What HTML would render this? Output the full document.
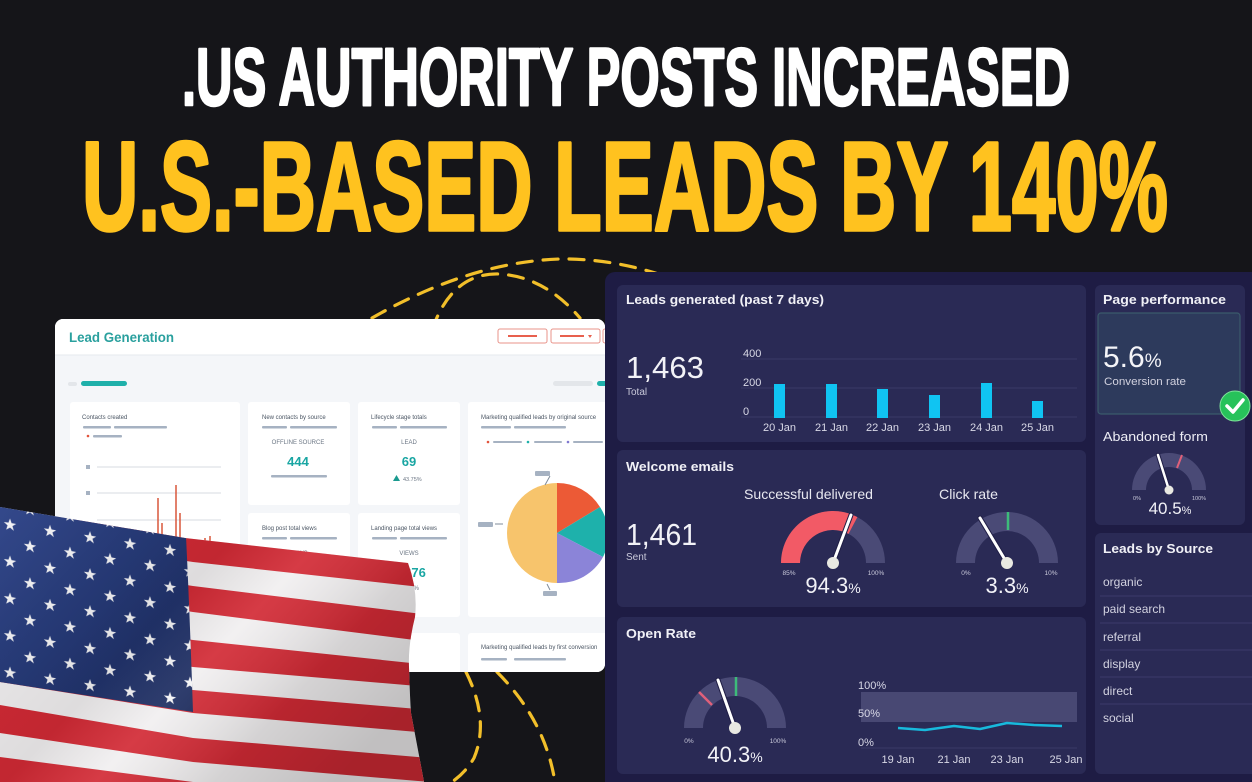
<!DOCTYPE html>
<html><head><meta charset="utf-8">
<style>
html,body{margin:0;padding:0;background:#151519;width:1252px;height:782px;overflow:hidden;}
svg{display:block;font-family:"Liberation Sans",sans-serif;overflow:hidden;}
</style></head>
<body>
<svg width="1252" height="782" viewBox="0 0 1252 782" xmlns="http://www.w3.org/2000/svg">
<defs>
  <polygon id="star" points="0,-6.5 1.53,-2.1 6.18,-2.01 2.47,0.8 3.82,5.26 0,2.6 -3.82,5.26 -2.47,0.8 -6.18,-2.01 -1.53,-2.1" fill="#f4f4f6"/>
  <pattern id="stars" patternUnits="userSpaceOnUse" x="0" y="514.4" width="40" height="37" patternTransform="skewY(9)">
    <use href="#star" x="10" y="9"/>
    <use href="#star" x="30" y="27.5"/>
  </pattern>
  <linearGradient id="blue" x1="0" y1="0" x2="1" y2="1">
    <stop offset="0" stop-color="#34498c"/>
    <stop offset="0.5" stop-color="#263a78"/>
    <stop offset="1" stop-color="#1b2a5c"/>
  </linearGradient>
  <linearGradient id="shade" x1="0" y1="0" x2="1" y2="0.6">
    <stop offset="0" stop-color="#000" stop-opacity="0"/>
    <stop offset="0.45" stop-color="#000" stop-opacity="0.08"/>
    <stop offset="0.6" stop-color="#fff" stop-opacity="0.08"/>
    <stop offset="0.8" stop-color="#000" stop-opacity="0.12"/>
    <stop offset="1" stop-color="#000" stop-opacity="0.2"/>
  </linearGradient>
  <clipPath id="flagclip">
    <path d="M 0 507 L 185 538 L 408 563 Q 418 590 415 617 Q 408 645 409 667 Q 410 700 411 713 Q 418 750 424 782 L 0 782 Z"/>
  </clipPath>
  <clipPath id="leftdash">
    <rect x="55" y="319" width="550" height="353" rx="8"/>
  </clipPath>
  <clipPath id="frame">
    <rect x="0" y="0" width="1252" height="782"/>
  </clipPath>
</defs>
<g clip-path="url(#frame)">
<!-- background -->
<rect x="0" y="0" width="1252" height="782" fill="#151519"/>

<!-- dashed decorative arcs -->
<g fill="none" stroke="#f2bf2a" stroke-width="3.2" stroke-dasharray="15 11" stroke-linecap="round">
  <path d="M 372 318 Q 470 262 560 259 Q 640 258 720 300"/>
  <path d="M 432 330 Q 452 272 500 274 Q 545 277 580 318"/>
  <path d="M 466 672 Q 490 720 474 758 Q 466 772 452 782"/>
  <path d="M 497 672 Q 545 720 555 782"/>
</g>

<!-- LEFT WHITE DASHBOARD -->
<g clip-path="url(#leftdash)">
  <rect x="55" y="319" width="560" height="353" fill="#f4f6f9"/>
  <rect x="55" y="319" width="560" height="36" fill="#ffffff"/>
  <line x1="55" y1="355" x2="615" y2="355" stroke="#e6e9ee" stroke-width="1"/>
  <text x="69" y="342" font-size="14" font-weight="bold" fill="#2aa09e" textLength="105" lengthAdjust="spacingAndGlyphs">Lead Generation</text>
  <rect x="498" y="329" width="49" height="14" rx="2" fill="#fff" stroke="#e8938a" stroke-width="1"/>
  <line x1="508" y1="336" x2="537" y2="336" stroke="#e8604e" stroke-width="2"/>
  <rect x="551" y="329" width="49" height="14" rx="2" fill="#fff" stroke="#e8938a" stroke-width="1"/>
  <line x1="560" y1="336" x2="584" y2="336" stroke="#e8604e" stroke-width="2"/>
  <path d="M 588 335 L 592 335 L 590 338 Z" fill="#e8604e"/>
  <rect x="603" y="329" width="10" height="14" rx="2" fill="#fff" stroke="#e8938a" stroke-width="1"/>
  <rect x="68" y="382" width="9" height="4" rx="2" fill="#e3e6ea"/>
  <rect x="81" y="381" width="46" height="5" rx="2.5" fill="#1fb0aa"/>
  <rect x="553" y="381" width="40" height="5" rx="2.5" fill="#e3e6ea"/>
  <rect x="597" y="381" width="12" height="5" rx="2.5" fill="#1fb0aa"/>

  <!-- cards -->
  <rect x="70" y="402" width="170" height="230" rx="3" fill="#fff"/>
  <rect x="248" y="402" width="102" height="103" rx="3" fill="#fff"/>
  <rect x="358" y="402" width="102" height="103" rx="3" fill="#fff"/>
  <rect x="468" y="402" width="150" height="215" rx="3" fill="#fff"/>
  <rect x="248" y="513" width="102" height="104" rx="3" fill="#fff"/>
  <rect x="358" y="513" width="102" height="104" rx="3" fill="#fff"/>
  <rect x="358" y="633" width="102" height="60" rx="3" fill="#fff"/>
  <rect x="468" y="633" width="150" height="60" rx="3" fill="#fff"/>

  <g font-size="6" fill="#4a5563">
    <text x="82" y="419">Contacts created</text>
    <text x="262" y="419">New contacts by source</text>
    <text x="371" y="419">Lifecycle stage totals</text>
    <text x="481" y="419">Marketing qualified leads by original source</text>
    <text x="262" y="530">Blog post total views</text>
    <text x="371" y="530">Landing page total views</text>
    <text x="481" y="649">Marketing qualified leads by first conversion</text>
  </g>
  <g fill="#a6b2c2">
    <rect x="83" y="426" width="28" height="2.5" rx="1"/><rect x="114" y="426" width="53" height="2.5" rx="1"/>
    <rect x="93" y="435" width="29" height="2.5" rx="1"/>
    <rect x="262" y="426" width="25" height="2.5" rx="1"/><rect x="290" y="426" width="47" height="2.5" rx="1"/>
    <rect x="271" y="475" width="56" height="2.5" rx="1"/>
    <rect x="372" y="426" width="25" height="2.5" rx="1"/><rect x="400" y="426" width="47" height="2.5" rx="1"/>
    <rect x="481" y="426" width="30" height="2.5" rx="1"/><rect x="514" y="426" width="52" height="2.5" rx="1"/>
    <rect x="493" y="441" width="29" height="2" rx="1"/><rect x="534" y="441" width="28" height="2" rx="1"/><rect x="573" y="441" width="30" height="2" rx="1"/>
    <rect x="262" y="537" width="25" height="2.5" rx="1"/><rect x="290" y="537" width="47" height="2.5" rx="1"/>
    <rect x="372" y="537" width="25" height="2.5" rx="1"/><rect x="400" y="537" width="47" height="2.5" rx="1"/>
    <rect x="481" y="658" width="26" height="2.5" rx="1"/><rect x="514" y="658" width="52" height="2.5" rx="1"/>
    <rect x="535" y="471" width="15" height="5" rx="1"/>
    <rect x="478" y="522" width="15" height="5" rx="1"/>
    <rect x="543" y="591" width="14" height="5" rx="1"/>
    <rect x="86" y="465" width="4" height="4"/><rect x="86" y="491" width="4" height="4"/>
  </g>
  <circle cx="88" cy="436" r="1.3" fill="#e2543c"/>
  <circle cx="488" cy="442" r="1.3" fill="#e2543c"/>
  <circle cx="528" cy="442" r="1.3" fill="#1fb0aa"/>
  <circle cx="568" cy="442" r="1.3" fill="#7f78d0"/>
  <g stroke="#d7dbe0" stroke-width="1">
    <line x1="97" y1="467" x2="221" y2="467"/>
    <line x1="97" y1="493" x2="221" y2="493"/>
    <line x1="97" y1="520" x2="221" y2="520"/>
  </g>
  <g stroke="#d9573b" stroke-width="1.5">
    <line x1="158" y1="498" x2="158" y2="560"/>
    <line x1="162" y1="523" x2="162" y2="560"/>
    <line x1="176" y1="485" x2="176" y2="560"/>
    <line x1="180" y1="513" x2="180" y2="560"/>
    <line x1="197" y1="540" x2="197" y2="560"/>
    <line x1="205" y1="538" x2="205" y2="560"/>
    <line x1="210" y1="536" x2="210" y2="560"/>
  </g>
  <g font-size="6" fill="#6b7684" text-anchor="middle">
    <text x="298" y="444">OFFLINE SOURCE</text>
    <text x="409" y="444">LEAD</text>
    <text x="298" y="555">VIEWS</text>
    <text x="409" y="555">VIEWS</text>
    <text x="413" y="590">78%</text>
  </g>
  <g font-size="13" font-weight="bold" fill="#1aa6a3" text-anchor="middle">
    <text x="298" y="466">444</text>
    <text x="409" y="466">69</text>
    <text x="406" y="577">13,376</text>
  </g>
  <path d="M 393 481 L 396.5 475 L 400 481 Z" fill="#1a9a8f"/>
  <text x="403" y="481" font-size="5.5" fill="#6b7684">43.75%</text>
  <!-- pie -->
  <path d="M 557 533 L 557 483 A 50 50 0 0 0 557 583 Z" fill="#f7c46c"/>
  <path d="M 557 533 L 557 483 A 50 50 0 0 1 600 507 Z" fill="#ec5a36"/>
  <path d="M 557 533 L 600 507 A 50 50 0 0 1 603 557 Z" fill="#1eb1ab"/>
  <path d="M 557 533 L 603 557 A 50 50 0 0 1 557 583 Z" fill="#8b84d8"/>
  <g stroke="#7f8b99" stroke-width="1"><line x1="550" y1="476" x2="545" y2="485"/><line x1="495" y1="524" x2="503" y2="524"/><line x1="547" y1="584" x2="550" y2="590"/></g>
</g>

<!-- DARK RIGHT PANEL -->
<rect x="605" y="272" width="670" height="530" rx="10" fill="#1e1c44"/>

<!-- Cards -->
<g fill="#2a2a55">
  <rect x="617" y="285" width="469" height="157" rx="6"/>
  <rect x="617" y="450" width="469" height="157" rx="6"/>
  <rect x="617" y="617" width="469" height="157" rx="6"/>
  <rect x="1095" y="285" width="150" height="240" rx="6"/>
  <rect x="1095" y="533" width="170" height="241" rx="6"/>
</g>

<!-- Leads generated -->
<text x="626" y="304" font-size="13" font-weight="bold" fill="#f0f0f6" textLength="198" lengthAdjust="spacingAndGlyphs">Leads generated (past 7 days)</text>
<text x="626" y="378" font-size="31" fill="#f2f2f7" textLength="78" lengthAdjust="spacingAndGlyphs">1,463</text>
<text x="626" y="395" font-size="10" fill="#c9c9da">Total</text>
<g stroke="#3a3968" stroke-width="1">
  <line x1="741" y1="359" x2="1077" y2="359"/>
  <line x1="741" y1="388" x2="1077" y2="388"/>
  <line x1="741" y1="417" x2="1077" y2="417"/>
</g>
<g font-size="11" fill="#d8d8e6">
  <text x="743" y="357">400</text>
  <text x="743" y="386">200</text>
  <text x="743" y="415">0</text>
</g>
<g fill="#10c4f2">
  <rect x="774" y="384" width="11" height="34"/>
  <rect x="826" y="384" width="11" height="34"/>
  <rect x="877" y="389" width="11" height="29"/>
  <rect x="929" y="395" width="11" height="23"/>
  <rect x="981" y="383" width="11" height="35"/>
  <rect x="1032" y="401" width="11" height="17"/>
</g>
<g font-size="11" fill="#d8d8e6" text-anchor="middle">
  <text x="779.5" y="431">20 Jan</text>
  <text x="831.5" y="431">21 Jan</text>
  <text x="882.5" y="431">22 Jan</text>
  <text x="934.5" y="431">23 Jan</text>
  <text x="986.5" y="431">24 Jan</text>
  <text x="1037.5" y="431">25 Jan</text>
</g>

<!-- Welcome emails -->
<text x="626" y="471" font-size="13" font-weight="bold" fill="#f0f0f6" textLength="108" lengthAdjust="spacingAndGlyphs">Welcome emails</text>
<text x="626" y="545" font-size="31" fill="#f2f2f7" textLength="71" lengthAdjust="spacingAndGlyphs">1,461</text>
<text x="626" y="560" font-size="10" fill="#c9c9da">Sent</text>
<text x="744" y="499" font-size="14" fill="#e8e8f0" textLength="129" lengthAdjust="spacingAndGlyphs">Successful delivered</text>
<text x="939" y="499" font-size="14" fill="#e8e8f0" textLength="59" lengthAdjust="spacingAndGlyphs">Click rate</text>

<!-- gauge 1 -->
<path d="M 781 563 A 52 52 0 0 1 885 563 L 866 563 A 33 33 0 0 0 800 563 Z" fill="#4a4a76"/>
<path d="M 781 563 A 52 52 0 0 1 857.4 517.1 L 848.5 533.9 A 33 33 0 0 0 800 563 Z" fill="#f25a66"/>
<line x1="833" y1="563" x2="851" y2="515" stroke="#1e1c44" stroke-width="5" stroke-linecap="round"/>
<line x1="833" y1="563" x2="851" y2="515" stroke="#ffffff" stroke-width="3" stroke-linecap="round"/>
<circle cx="833" cy="563" r="6" fill="#e9e9e2"/>
<g font-size="6.5" fill="#c9c9da" text-anchor="middle">
  <text x="789" y="575">85%</text>
  <text x="876" y="575">100%</text>
  <text x="966" y="575">0%</text>
  <text x="1051" y="575">10%</text>
</g>
<text x="833" y="593" font-size="22" fill="#f2f2f7" text-anchor="middle">94.3<tspan font-size="14">%</tspan></text>

<!-- gauge 2 -->
<path d="M 956 563 A 51 51 0 0 1 1058 563 L 1039 563 A 32 32 0 0 0 975 563 Z" fill="#4a4a76"/>
<line x1="1008" y1="512" x2="1008" y2="530" stroke="#3dbb7a" stroke-width="2.5"/>
<line x1="1007" y1="563" x2="980" y2="518" stroke="#1e1c44" stroke-width="5" stroke-linecap="round"/>
<line x1="1007" y1="563" x2="980" y2="518" stroke="#ffffff" stroke-width="3" stroke-linecap="round"/>
<circle cx="1007" cy="563" r="6" fill="#e9e9e2"/>
<text x="1007" y="593" font-size="22" fill="#f2f2f7" text-anchor="middle">3.3<tspan font-size="14">%</tspan></text>

<!-- Open Rate -->
<text x="626" y="638" font-size="13" font-weight="bold" fill="#f0f0f6" textLength="70" lengthAdjust="spacingAndGlyphs">Open Rate</text>
<path d="M 684 728 A 51 51 0 0 1 786 728 L 767 728 A 32 32 0 0 0 703 728 Z" fill="#4a4a76"/>
<line x1="699" y1="692" x2="712" y2="705" stroke="#e0607a" stroke-width="2.5"/>
<line x1="736" y1="677" x2="736" y2="696" stroke="#3dbb7a" stroke-width="2.5"/>
<line x1="735" y1="728" x2="718" y2="680" stroke="#1e1c44" stroke-width="5" stroke-linecap="round"/>
<line x1="735" y1="728" x2="718" y2="680" stroke="#ffffff" stroke-width="3" stroke-linecap="round"/>
<circle cx="735" cy="728" r="6" fill="#e9e9e2"/>
<g font-size="6.5" fill="#c9c9da" text-anchor="middle">
  <text x="689" y="743">0%</text>
  <text x="778" y="743">100%</text>
</g>
<text x="735" y="762" font-size="22" fill="#f2f2f7" text-anchor="middle">40.3<tspan font-size="14">%</tspan></text>
<rect x="861" y="692" width="216" height="30" fill="#484873"/>
<line x1="861" y1="748" x2="1077" y2="748" stroke="#3a3968" stroke-width="1"/>
<g font-size="11" fill="#d8d8e6">
  <text x="858" y="689">100%</text>
  <text x="858" y="717">50%</text>
  <text x="858" y="746">0%</text>
</g>
<polyline points="898,728 925,730 954,726 980,729 1007,723 1034,725 1062,726" fill="none" stroke="#18b9dc" stroke-width="2.5" stroke-linejoin="round"/>
<g font-size="11" fill="#d8d8e6" text-anchor="middle">
  <text x="898" y="763">19 Jan</text>
  <text x="954" y="763">21 Jan</text>
  <text x="1007" y="763">23 Jan</text>
  <text x="1066" y="763">25 Jan</text>
</g>

<!-- Page performance -->
<text x="1103" y="304" font-size="13" font-weight="bold" fill="#f0f0f6" textLength="123" lengthAdjust="spacingAndGlyphs">Page performance</text>
<rect x="1098" y="313" width="142" height="101" rx="3" fill="#2d3a5c" stroke="#3b5a6b" stroke-width="1.2"/>
<text x="1103" y="367" font-size="30" fill="#f4f4f8">5.6<tspan font-size="19">%</tspan></text>
<text x="1104" y="385" font-size="11" fill="#d0d0de" textLength="82" lengthAdjust="spacingAndGlyphs">Conversion rate</text>
<circle cx="1235" cy="406" r="15" fill="#27c25a" stroke="#7ee29a" stroke-width="1"/>
<polyline points="1227,406 1233,412 1243,400" fill="none" stroke="#ffffff" stroke-width="3.5" stroke-linecap="round" stroke-linejoin="round"/>
<text x="1103" y="441" font-size="13" fill="#ececf4" textLength="105" lengthAdjust="spacingAndGlyphs">Abandoned form</text>
<path d="M 1132 490 A 37 37 0 0 1 1206 490 L 1192 490 A 23 23 0 0 0 1146 490 Z" fill="#4a4a76"/>
<line x1="1182" y1="455" x2="1177" y2="468" stroke="#e0607a" stroke-width="2"/>
<line x1="1169" y1="490" x2="1158" y2="455" stroke="#1e1c44" stroke-width="4.5" stroke-linecap="round"/>
<line x1="1169" y1="490" x2="1158" y2="455" stroke="#ffffff" stroke-width="2.5" stroke-linecap="round"/>
<circle cx="1169" cy="490" r="4.5" fill="#e9e9e2"/>
<g font-size="5.5" fill="#c9c9da" text-anchor="middle">
  <text x="1137" y="500">0%</text>
  <text x="1199" y="500">100%</text>
</g>
<text x="1170" y="514" font-size="17" fill="#f2f2f7" text-anchor="middle">40.5<tspan font-size="11">%</tspan></text>

<!-- Leads by Source -->
<text x="1103" y="553" font-size="13" font-weight="bold" fill="#f0f0f6" textLength="110" lengthAdjust="spacingAndGlyphs">Leads by Source</text>
<g stroke="#3c3b6a" stroke-width="1">
  <line x1="1100" y1="596" x2="1252" y2="596"/>
  <line x1="1100" y1="623" x2="1252" y2="623"/>
  <line x1="1100" y1="650" x2="1252" y2="650"/>
  <line x1="1100" y1="677" x2="1252" y2="677"/>
  <line x1="1100" y1="704" x2="1252" y2="704"/>
</g>
<g font-size="12" fill="#d2d2e0">
  <text x="1103" y="586">organic</text>
  <text x="1103" y="613">paid search</text>
  <text x="1103" y="641">referral</text>
  <text x="1103" y="668">display</text>
  <text x="1103" y="695">direct</text>
  <text x="1103" y="722">social</text>
</g>

<!-- FLAG -->
<g clip-path="url(#flagclip)">
  <rect x="0" y="500" width="440" height="282" fill="#f1eff0"/>
  <g fill="#d22a35">
    <polygon points="0,508 193,538 430,565 430,588 193,562 0,532"/>
    <polygon points="0,556 193,586 430,615 430,642 193,612 0,582"/>
    <polygon points="0,610 193,640 430,665 430,687 193,667 0,637"/>
    <polygon points="0,660 193,690 430,710 430,733 193,713 0,682"/>
    <polygon points="0,705 193,738 430,758 430,782 193,762 0,733"/>
    <polygon points="0,757 193,782 430,782 0,782"/>
  </g>
  <path d="M 0 500 L 186 536 Q 190 620 193 712 L 0 682 Z" fill="url(#blue)"/>
  <path d="M 0 500 L 186 536 Q 190 620 193 712 L 0 682 Z" fill="url(#stars)"/>
  <rect x="0" y="500" width="440" height="282" fill="url(#shade)"/>
</g>

<!-- TITLE -->
<text x="182" y="105" font-size="82" font-weight="bold" fill="#ffffff" stroke="#ffffff" stroke-width="2.5" stroke-linejoin="round" textLength="888" lengthAdjust="spacingAndGlyphs">.US AUTHORITY POSTS INCREASED</text>
<text x="82" y="230" font-size="126" font-weight="bold" fill="#ffc21f" stroke="#ffc21f" stroke-width="3.5" stroke-linejoin="round" textLength="1086" lengthAdjust="spacingAndGlyphs">U.S.-BASED LEADS BY 140%</text>
</g>
</svg>
</body></html>
